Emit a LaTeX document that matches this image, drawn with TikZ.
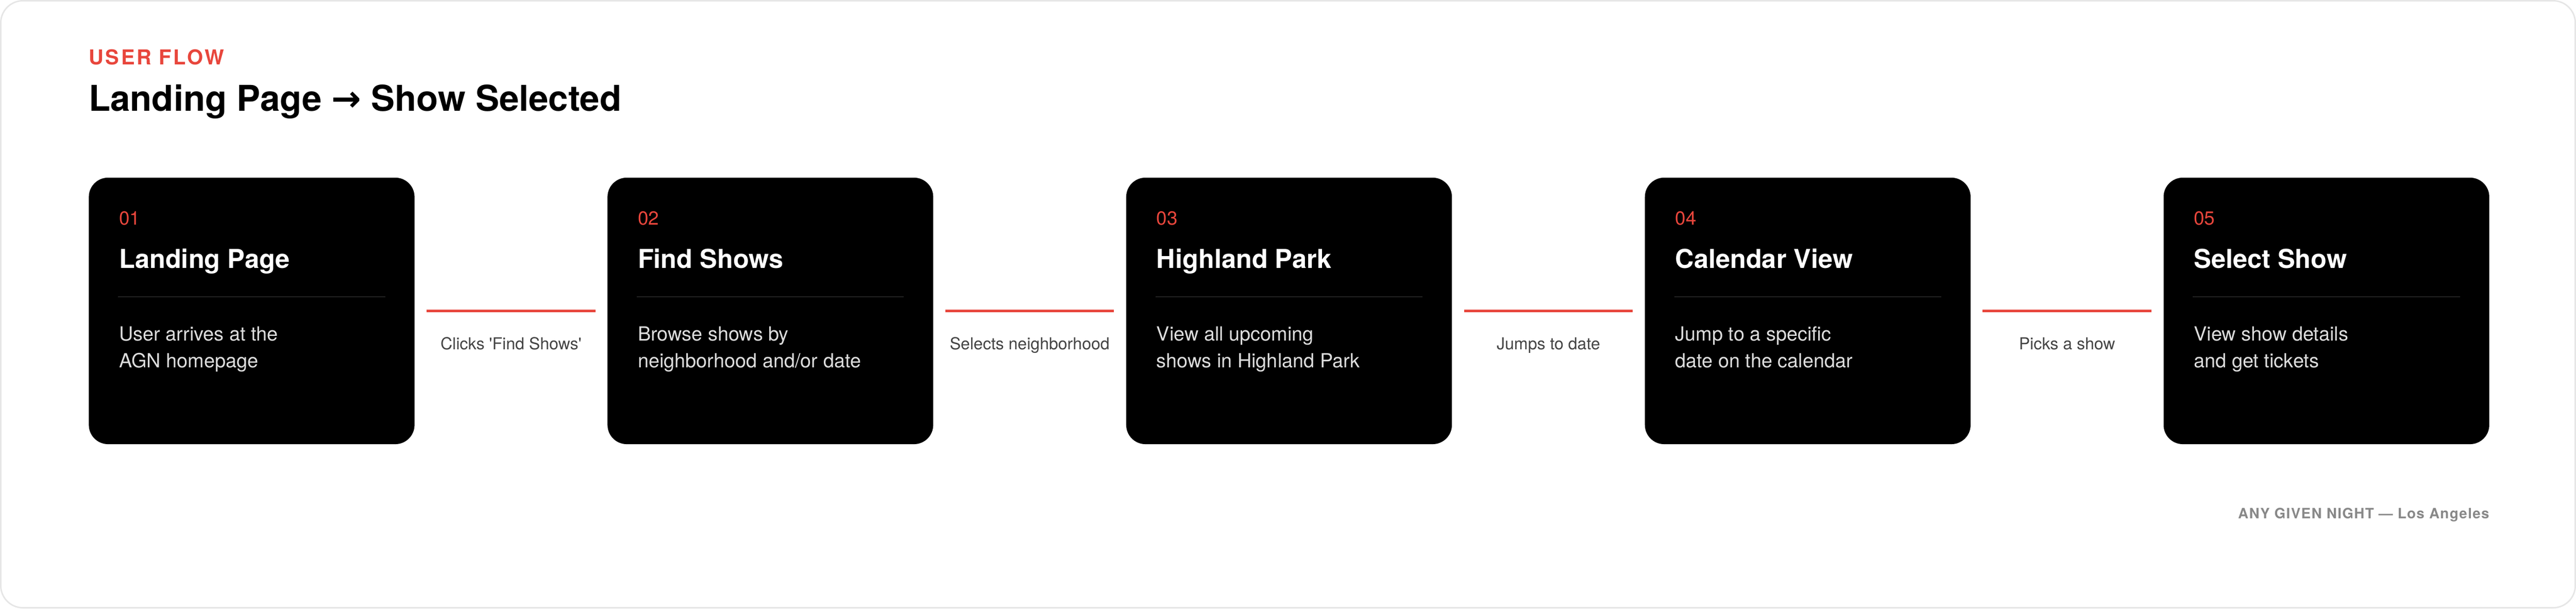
\documentclass[tikz,border=0pt]{standalone}
\usepackage{fontspec}
\setmainfont{TeX Gyre Heros}
\newfontfamily\arrowfont{DejaVu Sans}
\newfontfamily\spacedfont[LetterSpace=9]{TeX Gyre Heros}
\newfontfamily\footfont[LetterSpace=5]{TeX Gyre Heros}
\usetikzlibrary{positioning}
\definecolor{flowred}{HTML}{E8463C}
\definecolor{framegray}{HTML}{E6E6E6}
\definecolor{rulegray}{HTML}{222222}
\definecolor{bodygray}{HTML}{DDDDDD}
\definecolor{labelgray}{HTML}{444444}
\definecolor{footgray}{HTML}{888888}
\tikzset{node distance=5.2cm, % Gap between two cards
card/.style={ % Sets the properties for each step card
rectangle, rounded corners=0.52cm,
fill=black, inner sep=0pt,
minimum width=8.8cm, minimum height=7.2cm},
stepnum/.style={anchor=base west, inner sep=0pt, text=flowred, font=\fontsize{14.6}{17}\selectfont},
steptitle/.style={anchor=base west, inner sep=0pt, text=white, font=\bfseries\fontsize{20}{24}\selectfont},
stepbody/.style={anchor=base west, inner sep=0pt, text=bodygray, align=left, font=\fontsize{15}{20.5}\selectfont}, % base is the last line
divider/.style={draw=rulegray, line width=0.85pt},
flowline/.style={ % Sets the properties for each transition
draw=flowred, line width=2pt,
shorten <=0.32cm, shorten >=0.32cm},
steplabel/.style={anchor=base, inner sep=0pt, yshift=-1.04cm, text=labelgray, font=\fontsize{12.7}{15}\selectfont}}

\begin{document}
\begin{tikzpicture}

    \useasboundingbox (0,0) rectangle (69.6,16.44);
    \draw[framegray, line width=0.04cm, rounded corners=0.6cm] (0.02,0.02) rectangle (69.58,16.42);

    \node[card] (card1) at (6.8,8.04) {};
    \node[card, right=of card1] (card2) {};
    \node[card, right=of card2] (card3) {};
    \node[card, right=of card3] (card4) {};
    \node[card, right=of card4] (card5) {};

    % header
    \node[anchor=base west, inner sep=0pt, text=flowred, font=\spacedfont\bfseries\fontsize{15.8}{18}\selectfont] (kicker) at ([yshift=3.04cm]card1.north west) {USER FLOW};
    \node[anchor=base west, inner sep=0pt, font=\bfseries\fontsize{27.3}{32}\selectfont] (title) at ([yshift=1.8cm]card1.north west) {Landing Page {\arrowfont\bfseries →} Show Selected};

    % card texts
    \node[stepnum] (num1) at ([xshift=0.82cm, yshift=-1.29cm]card1.north west) {01};
    \node[steptitle] (name1) at ([xshift=0.82cm, yshift=-2.45cm]card1.north west) {Landing Page};
    \node[stepbody] (text1) at ([xshift=0.82cm, yshift=-5.14cm]card1.north west) {User arrives at the\\AGN homepage};
    \draw[divider] ([xshift=0.8cm, yshift=-3.23cm]card1.north west) -- ([xshift=-0.8cm, yshift=-3.23cm]card1.north east);

    \node[stepnum] (num2) at ([xshift=0.82cm, yshift=-1.29cm]card2.north west) {02};
    \node[steptitle] (name2) at ([xshift=0.82cm, yshift=-2.45cm]card2.north west) {Find Shows};
    \node[stepbody] (text2) at ([xshift=0.82cm, yshift=-5.14cm]card2.north west) {Browse shows by\\neighborhood and/or date};
    \draw[divider] ([xshift=0.8cm, yshift=-3.23cm]card2.north west) -- ([xshift=-0.8cm, yshift=-3.23cm]card2.north east);

    \node[stepnum] (num3) at ([xshift=0.82cm, yshift=-1.29cm]card3.north west) {03};
    \node[steptitle] (name3) at ([xshift=0.82cm, yshift=-2.45cm]card3.north west) {Highland Park};
    \node[stepbody] (text3) at ([xshift=0.82cm, yshift=-5.14cm]card3.north west) {View all upcoming\\shows in Highland Park};
    \draw[divider] ([xshift=0.8cm, yshift=-3.23cm]card3.north west) -- ([xshift=-0.8cm, yshift=-3.23cm]card3.north east);

    \node[stepnum] (num4) at ([xshift=0.82cm, yshift=-1.29cm]card4.north west) {04};
    \node[steptitle] (name4) at ([xshift=0.82cm, yshift=-2.45cm]card4.north west) {Calendar View};
    \node[stepbody] (text4) at ([xshift=0.82cm, yshift=-5.14cm]card4.north west) {Jump to a specific\\date on the calendar};
    \draw[divider] ([xshift=0.8cm, yshift=-3.23cm]card4.north west) -- ([xshift=-0.8cm, yshift=-3.23cm]card4.north east);

    \node[stepnum] (num5) at ([xshift=0.82cm, yshift=-1.29cm]card5.north west) {05};
    \node[steptitle] (name5) at ([xshift=0.82cm, yshift=-2.45cm]card5.north west) {Select Show};
    \node[stepbody] (text5) at ([xshift=0.82cm, yshift=-5.14cm]card5.north west) {View show details\\and get tickets};
    \draw[divider] ([xshift=0.8cm, yshift=-3.23cm]card5.north west) -- ([xshift=-0.8cm, yshift=-3.23cm]card5.north east);

    % transitions
    \draw[flowline] (card1) -- node[steplabel] (label1) {Clicks \textquotesingle Find Shows\textquotesingle} (card2);
    \draw[flowline] (card2) -- node[steplabel] (label2) {Selects neighborhood} (card3);
    \draw[flowline] (card3) -- node[steplabel] (label3) {Jumps to date} (card4);
    \draw[flowline] (card4) -- node[steplabel] (label4) {Picks a show} (card5);

    % footer
    \node[anchor=base east, inner sep=0pt, text=footgray, font=\footfont\bfseries\fontsize{11}{13}\selectfont] (footer) at ([yshift=-2cm]card5.south east) {ANY GIVEN NIGHT — Los Angeles};

\end{tikzpicture}
\end{document}
